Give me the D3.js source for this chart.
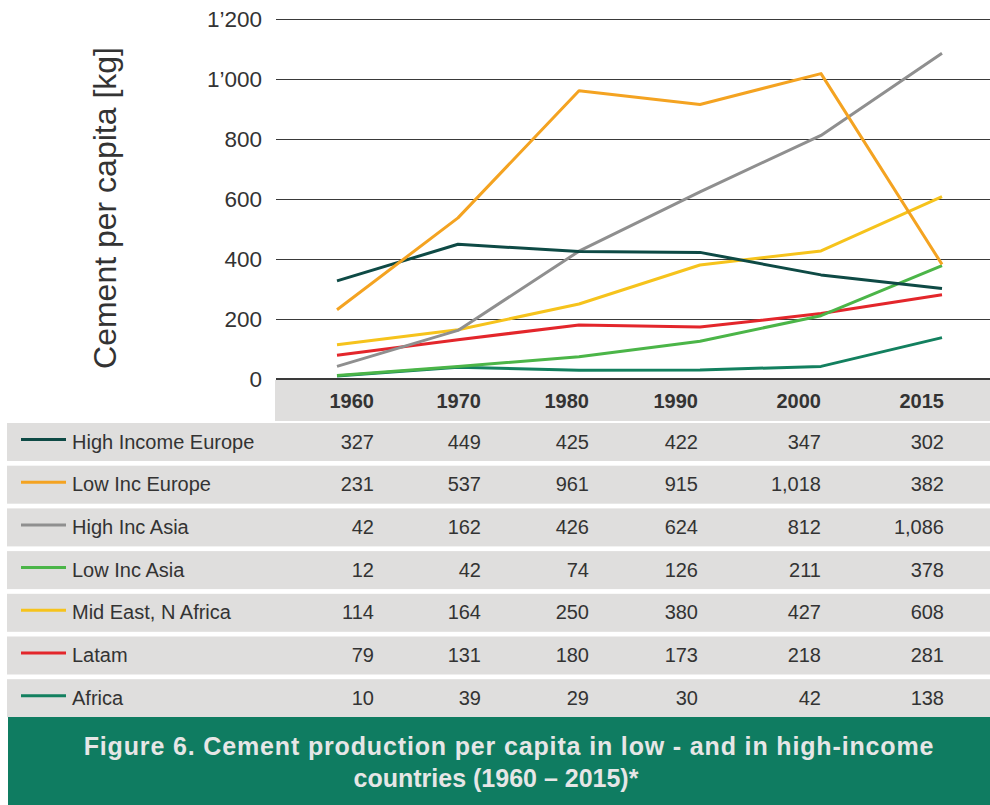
<!DOCTYPE html>
<html>
<head>
<meta charset="utf-8">
<script src="https://cdn.jsdelivr.net/npm/d3@7"></script>
<style>
  html, body { margin: 0; padding: 0; background: #ffffff; }
  svg { display: block; font-family: "Liberation Sans", Arial, Helvetica, sans-serif; }
</style>
</head>
<body>
<svg id="chart" width="990" height="805"></svg>
<script>
// ---- data ----
const years = ["1960", "1970", "1980", "1990", "2000", "2015"];
const seriesNames = ["High Income Europe", "Low Inc Europe", "High Inc Asia", "Low Inc Asia",
                     "Mid East, N Africa", "Latam", "Africa"];
const highIncomeEurope = [327, 449, 425, 422, 347, 302];
const lowIncEurope     = [231, 537, 961, 915, 1018, 382];
const highIncAsia      = [42, 162, 426, 624, 812, 1086];
const lowIncAsia       = [12, 42, 74, 126, 211, 378];
const midEastNAfrica   = [114, 164, 250, 380, 427, 608];
const latam            = [79, 131, 180, 173, 218, 281];
const africa           = [10, 39, 29, 30, 42, 138];
const yTicks = [0, 200, 400, 600, 800, 1000, 1200];
const yTitle = "Cement per capita [kg]";
const captionLines = ["Figure 6. Cement production per capita in low - and in high-income",
                      "countries (1960 \u2013 2015)*"];

const seriesValues = [highIncomeEurope, lowIncEurope, highIncAsia, lowIncAsia,
                      midEastNAfrica, latam, africa];
const seriesColors = ["#0e4a45", "#f4a321", "#8f8f8f", "#4bb548", "#f6c31c", "#e3262b", "#13805f"];

// ---- layout ----
const W = 990;
const plotLeft = 276, plotTop = 19, plotBottom = 379;
const headerTop = 380, headerH = 41;
const rowTop0 = 423, rowH = 38, rowPitch = 42.7;
const colRight = [374, 481, 589, 698, 821, 944];   // right edges of table columns
const textColor = "#333333";

const svg = d3.select("#chart");

const x = d3.scalePoint().domain(years).range([337, 942]);
const y = d3.scaleLinear().domain([0, 1200]).range([plotBottom, plotTop]);

// y tick labels use a typographic apostrophe for thousands
const yFmt = d3.formatLocale({ decimal: ".", thousands: "\u2019", grouping: [3], currency: ["", ""] }).format(",");
const tableFmt = d3.format(",");

// grid lines + tick labels via d3 axis
const yAxis = d3.axisLeft(y).tickValues(yTicks).tickFormat(yFmt)
  .tickSize(-(W - plotLeft)).tickPadding(14);
const gy = svg.append("g").attr("transform", `translate(${plotLeft},0)`).call(yAxis);
gy.select(".domain").remove();
gy.selectAll(".tick line").attr("stroke", "#3a3a3a").attr("stroke-width", 1.2).attr("shape-rendering", "crispEdges");
gy.selectAll(".tick text").attr("fill", textColor).attr("font-size", 22.5)
  .attr("font-family", "\"Liberation Sans\", Arial, sans-serif");

// y axis title
svg.append("text")
  .attr("transform", `translate(116,208) rotate(-90)`)
  .attr("text-anchor", "middle")
  .attr("font-size", 32)
  .attr("fill", textColor)
  .text(yTitle);

// header band for years
svg.append("rect").attr("x", plotLeft - 1).attr("y", headerTop).attr("width", W - plotLeft + 1)
  .attr("height", headerH).attr("fill", "#dfdedd");
svg.append("line").attr("x1", plotLeft).attr("x2", W).attr("y1", y(0)).attr("y2", y(0))
  .attr("stroke", "#3a3a3a").attr("stroke-width", 1.2).attr("shape-rendering", "crispEdges");
svg.append("g").selectAll("text").data(years).join("text")
  .attr("x", (d, i) => colRight[i])
  .attr("y", 408)
  .attr("text-anchor", "end")
  .attr("font-size", 20)
  .attr("font-weight", "bold")
  .attr("fill", textColor)
  .text(d => d);

// series lines
const line = d3.line().x((d, i) => x(years[i])).y(d => y(d));
const order = [6, 5, 3, 4, 2, 0, 1];
svg.append("g").selectAll("path").data(order).join("path")
  .attr("d", i => line(seriesValues[i]))
  .attr("fill", "none")
  .attr("stroke", i => seriesColors[i])
  .attr("stroke-width", 3)
  .attr("stroke-linejoin", "round");

// data table rows with legend swatches
const rows = svg.append("g").selectAll("g").data(seriesNames).join("g")
  .attr("transform", (d, i) => `translate(0,${rowTop0 + i * rowPitch})`);
rows.append("rect").attr("x", 7).attr("y", 0).attr("width", W - 7).attr("height", rowH)
  .attr("fill", "#dfdedd");
rows.append("line").attr("x1", 21).attr("x2", 66).attr("y1", 16.5).attr("y2", 16.5)
  .attr("stroke", (d, i) => seriesColors[i]).attr("stroke-width", 3);
rows.append("text").attr("x", 72).attr("y", 25.5)
  .attr("font-size", 20).attr("fill", textColor).text(d => d);
rows.each(function (name, si) {
  d3.select(this).selectAll("text.val").data(seriesValues[si]).join("text")
    .attr("class", "val")
    .attr("x", (d, i) => colRight[i])
    .attr("y", 25.5)
    .attr("text-anchor", "end")
    .attr("font-size", 20)
    .attr("fill", textColor)
    .text(d => tableFmt(d));
});

// caption band
svg.append("rect").attr("x", 8).attr("y", 717).attr("width", W - 8).attr("height", 88)
  .attr("fill", "#0f7c61");
svg.append("g").selectAll("text").data(captionLines).join("text")
  .attr("x", (d, i) => i === 0 ? 509 : 496)
  .attr("y", (d, i) => 755 + i * 32)
  .attr("text-anchor", "middle")
  .attr("font-size", 25)
  .attr("font-weight", "bold")
  .attr("letter-spacing", (d, i) => i === 0 ? 0.85 : 0)
  .attr("fill", "#e6e6e6")
  .text(d => d);
</script>
</body>
</html>
